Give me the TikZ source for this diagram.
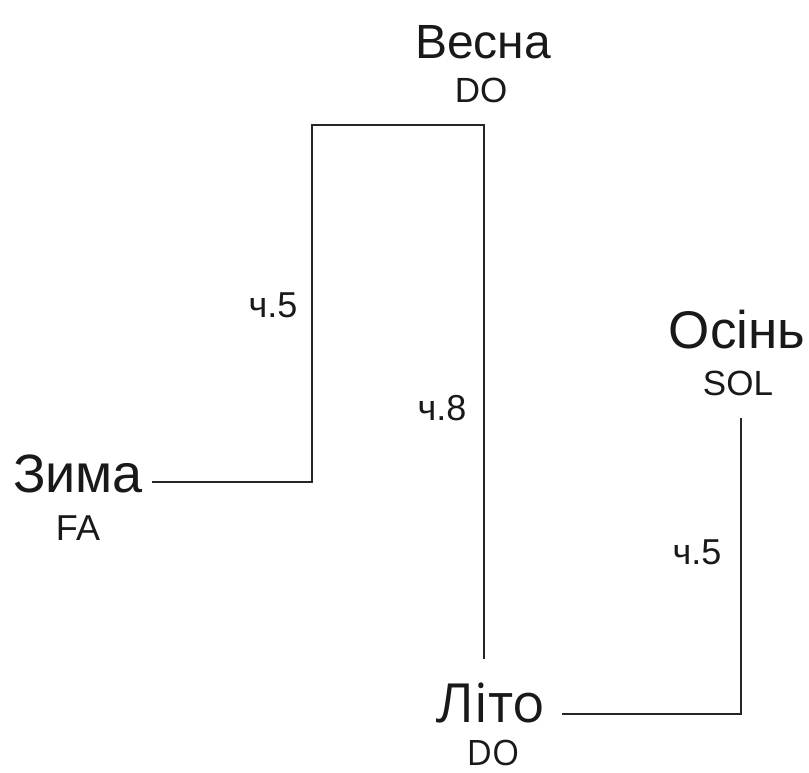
\documentclass[tikz,border=0pt]{standalone}
\usepackage{fontspec}
\setmainfont{Liberation Sans}
\newfontfamily\litofont{Open Sans}
\begin{document}
\begin{tikzpicture}[x=1pt,y=-1pt,
  big/.style={inner sep=0pt,anchor=base,font=\fontsize{48}{48}\selectfont,text=black!90},
  small/.style={inner sep=0pt,anchor=base,font=\fontsize{35}{35}\selectfont,text=black!90},
  lab/.style={inner sep=0pt,anchor=base,font=\fontsize{36}{36}\selectfont,text=black!90},
  conn/.style={line width=1.6pt,black!85}]
\useasboundingbox (0,0) rectangle (809,772);
\node[big] (vesna) at (483,58) {Весна};
\node[small] (vesnado) at (481,102) {DO};
\node[big,font=\fontsize{54}{54}\selectfont] (zyma) at (78,492) {Зима};
\node[small,font=\fontsize{36}{36}\selectfont] (zymafa) at (78,540) {FA};
\node[big,font=\fontsize{53}{53}\selectfont] (osin) at (737,348) {Осінь};
\node[small] (osinsol) at (738,395) {SOL};
\node[big,font=\litofont\fontsize{54}{54}\selectfont] (lito) at (491,722) {Літо};
\node[small,font=\litofont\fontsize{35}{35}\selectfont] (litodo) at (493,765) {DO};
\coordinate (zend) at (152,482);
\coordinate (c1) at (312,482);
\coordinate (c2) at (312,125);
\coordinate (c3) at (484,125);
\coordinate (c4) at (484,659);
\coordinate (lend) at (562,714);
\coordinate (o1) at (741,714);
\coordinate (o2) at (741,418);
\draw[conn] (zend) -- (c1) -- (c2) -- (c3) -- (c4);
\draw[conn] (lend) -- (o1) -- (o2);
\node[lab] (l1) at (273,317) {ч.5};
\node[lab] (l2) at (442,420) {ч.8};
\node[lab] (l3) at (697,564) {ч.5};
\end{tikzpicture}
\end{document}
